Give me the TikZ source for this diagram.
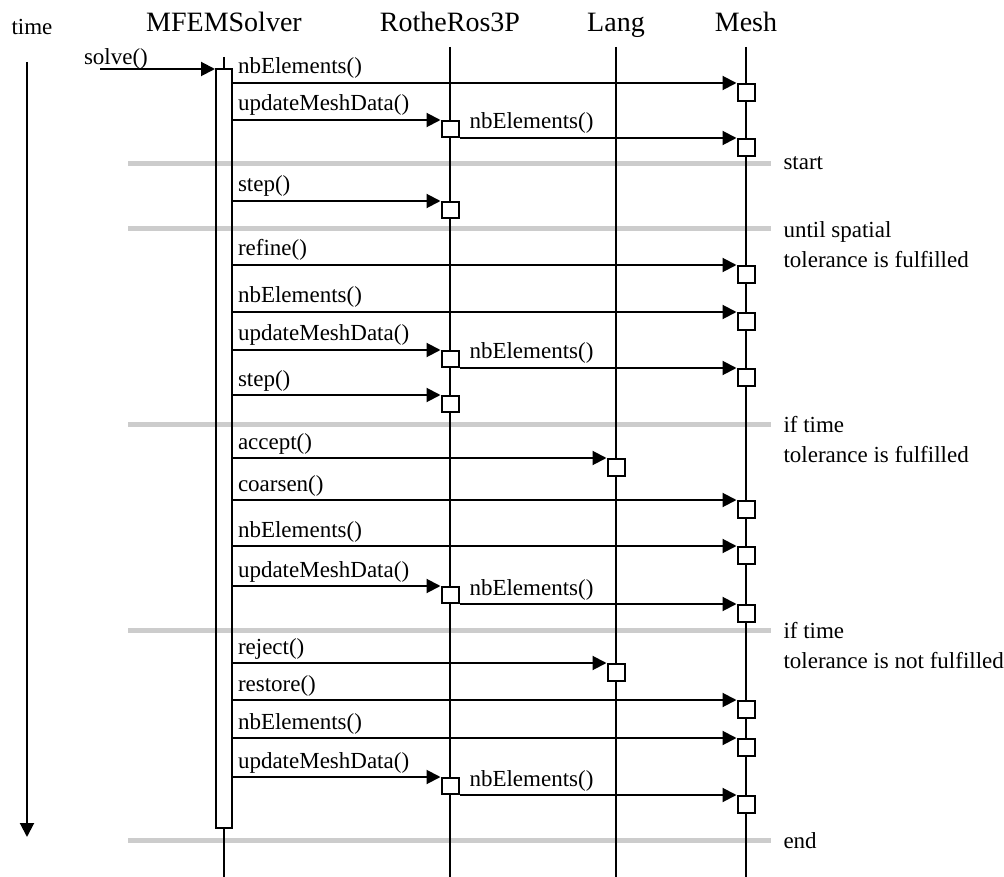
\documentclass[tikz,border=0pt]{standalone}
\usepackage{fontspec}
\setmainfont{Liberation Serif}
\usetikzlibrary{arrows.meta}

\begin{document}
\begin{tikzpicture}[
  x=1pt, y=-1pt,
  head/.style={font=\fontsize{28}{32}\selectfont, anchor=base, inner sep=0pt},
  txt/.style={font=\fontsize{23}{30}\selectfont, inner sep=0pt},
  msg/.style={txt, anchor=base west, pos=0, shift={(4pt,9pt)}},
  note/.style={txt, anchor=north west, align=left, shift={(10pt,10pt)}},
  life/.style={line width=2pt},
  act/.style={draw, fill=white, line width=2pt, minimum width=17pt, minimum height=17pt, inner sep=0pt, anchor=north},
  arr/.style={-{Triangle[length=14pt, width=14pt]}, line width=2pt},
  sep/.style={line width=5pt, draw=black!20}
]
  \useasboundingbox (0,0) rectangle (1004,877);

  % objects
  \node[txt, anchor=base] (htime) at (32,35) {time};
  \node[head] (hsolver) at (224,32) {MFEMSolver};
  \node[head] (hrothe) at (450,32) {RotheRos3P};
  \node[head] (hlang) at (616,32) {Lang};
  \node[head] (hmesh) at (746,32) {Mesh};

  % loop markers
  \draw[sep] (128,164) -- (771,164) node[note] {start};
  \draw[sep] (128,229) -- (771,229) node[note] {until spatial\\tolerance is fulfilled};
  \draw[sep] (128,424) -- (771,424) node[note] {if time\\tolerance is fulfilled};
  \draw[sep] (128,630) -- (771,630) node[note] {if time\\tolerance is not fulfilled};
  \draw[sep] (128,840) -- (771,840) node[note] {end};

  % lifelines
  \node[draw, line width=2pt, minimum width=16pt, minimum height=759pt, inner sep=0pt, anchor=north] (run) at (224,68) {};
  \draw[life] (hsolver |- 0,57) -- (run.north);
  \draw[life] (run.south) -- (hsolver |- 0,877);
  \draw[life] (hrothe |- 0,47) -- (hrothe |- 0,877);
  \draw[life] (hlang |- 0,47) -- (hlang |- 0,877);
  \draw[life] (hmesh |- 0,47) -- (hmesh |- 0,877);

  % time axis
  \coordinate (tstart) at (27,62);
  \coordinate (tend) at (27,837);
  \draw[arr] (tstart) -- (tend);

  \coordinate (caller) at (100,69);
  \draw[arr] (caller) -- (run.west |- caller) node[msg, shift={(-21pt,-5pt)}] {solve()};

  % initialisation
  \node[act] (b1) at (hmesh |- 0,83) {};
  \draw[arr] (run.east |- b1.north) -- (b1.north west) node[msg] {nbElements()};
  \node[act, minimum height=16pt] (b2) at (hrothe |- 0,120) {};
  \draw[arr] (run.east |- b2.north) -- (b2.north west) node[msg] {updateMeshData()};
  \node[act] (b3) at (hmesh |- b2.south) {};
  \draw[arr] (b2.south east) -- (b3.north west) node[msg, shift={(5pt,0)}] {nbElements()};

  % time step
  \node[act, minimum height=16pt] (b4) at (hrothe |- 0,201) {};
  \draw[arr] (run.east |- b4.north) -- (b4.north west) node[msg] {step()};

  % spatial loop
  \node[act] (b5) at (hmesh |- 0,265) {};
  \draw[arr] (run.east |- b5.north) -- (b5.north west) node[msg] {refine()};
  \node[act] (b6) at (hmesh |- 0,312) {};
  \draw[arr] (run.east |- b6.north) -- (b6.north west) node[msg] {nbElements()};
  \node[act, minimum height=16pt] (b7) at (hrothe |- 0,350) {};
  \draw[arr] (run.east |- b7.north) -- (b7.north west) node[msg] {updateMeshData()};
  \node[act] (b8) at (hmesh |- b7.south) {};
  \draw[arr] (b7.south east) -- (b8.north west) node[msg, shift={(5pt,0)}] {nbElements()};
  \node[act, minimum height=16pt] (b9) at (hrothe |- 0,395) {};
  \draw[arr] (run.east |- b9.north) -- (b9.north west) node[msg] {step()};

  % accepted step
  \node[act] (b10) at (hlang |- 0,458) {};
  \draw[arr] (run.east |- b10.north) -- (b10.north west) node[msg] {accept()};
  \node[act] (b11) at (hmesh |- 0,500) {};
  \draw[arr] (run.east |- b11.north) -- (b11.north west) node[msg] {coarsen()};
  \node[act] (b12) at (hmesh |- 0,546) {};
  \draw[arr] (run.east |- b12.north) -- (b12.north west) node[msg] {nbElements()};
  \node[act, minimum height=16pt] (b13) at (hrothe |- 0,586) {};
  \draw[arr] (run.east |- b13.north) -- (b13.north west) node[msg] {updateMeshData()};
  \node[act] (b14) at (hmesh |- b13.south) {};
  \draw[arr] (b13.south east) -- (b14.north west) node[msg, shift={(5pt,0)}] {nbElements()};

  % rejected step
  \node[act] (b15) at (hlang |- 0,663) {};
  \draw[arr] (run.east |- b15.north) -- (b15.north west) node[msg] {reject()};
  \node[act] (b16) at (hmesh |- 0,700) {};
  \draw[arr] (run.east |- b16.north) -- (b16.north west) node[msg] {restore()};
  \node[act] (b17) at (hmesh |- 0,738) {};
  \draw[arr] (run.east |- b17.north) -- (b17.north west) node[msg] {nbElements()};
  \node[act, minimum height=16pt] (b18) at (hrothe |- 0,777) {};
  \draw[arr] (run.east |- b18.north) -- (b18.north west) node[msg] {updateMeshData()};
  \node[act] (b19) at (hmesh |- b18.south) {};
  \draw[arr] (b18.south east) -- (b19.north west) node[msg, shift={(5pt,0)}] {nbElements()};
\end{tikzpicture}
\end{document}
